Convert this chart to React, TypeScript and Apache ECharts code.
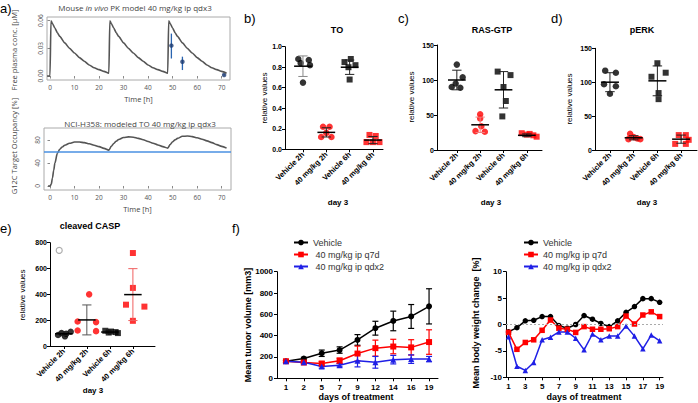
import React, { useEffect, useRef } from "react";
import * as echarts from "echarts";

const FONT_GP = "'Liberation Sans', Arial, sans-serif";
const FONT_A = "'Open Sans', 'Noto Sans', sans-serif";

// ---------- Panel a: PK model ----------
const pkTime = [-1.2, 0, 0.4, 1, 2, 3, 4, 6, 8, 10, 12, 14, 16, 18, 20, 22, 24,
  24.4, 25, 26, 27, 28, 30, 32, 34, 36, 38, 40, 42, 44, 46, 48,
  48.4, 49, 50, 51, 52, 54, 56, 58, 60, 62, 64, 66, 68, 70, 72];
const pkConc = [0, 0, 0.06, 0.057, 0.052, 0.047, 0.043, 0.036, 0.03, 0.025, 0.02, 0.016, 0.012, 0.009, 0.007, 0.005, 0.003,
  0.06, 0.057, 0.052, 0.047, 0.043, 0.036, 0.03, 0.025, 0.02, 0.016, 0.012, 0.009, 0.007, 0.005, 0.003,
  0.06, 0.057, 0.052, 0.047, 0.043, 0.036, 0.03, 0.025, 0.02, 0.016, 0.012, 0.009, 0.007, 0.005, 0.003];
const pkObsTime = [49.5, 54, 71];
const pkObsConc = [0.033, 0.0155, 0.0012];
const pkObsLow = [0.019, 0.0065, 0.0006];
const pkObsHigh = [0.046, 0.021, 0.0018];
const timeTicks = [0, 10, 20, 30, 40, 50, 60, 70];
const pkTicks = [0, 0.03, 0.06];

const occTime = [-0.8, 0, 0.5, 1, 1.5, 2, 3, 4, 5, 6, 8, 10, 12, 14, 16, 18, 20, 22, 24,
  25, 26, 27, 28, 30, 32, 34, 36, 38, 40, 42, 44, 46, 48,
  49, 50, 51, 52, 54, 56, 58, 60, 62, 64, 66, 68, 70, 72];
const occValue = [0, 0, 3, 14, 27, 40, 57, 64, 68, 71, 74.5, 76.5, 76.5, 75.5, 73.5, 71, 68.5, 65.5, 62.5,
  69, 74, 78, 81, 84.5, 85.5, 85, 83, 80.5, 77.5, 74.5, 71.5, 68.5, 66,
  72, 77, 80.5, 83, 86.5, 87, 86, 84, 81.5, 78.5, 75.5, 72, 69, 66];
const occThreshold = 60;
const occTicks = [0, 40, 80];

// ---------- Panels b-e: dot plots ----------
const groupLabels = ["Vehicle 2h", "40 mg/kg 2h", "Vehicle 6h", "40 mg/kg 6h"];
const groupTicks = [0, 1, 2, 3];

// b) TO
const toV2h = [0.88, 0.87, 0.84, 0.82, 0.65];
const toD2h = [0.22, 0.22, 0.16, 0.12, 0.12];
const toV6h = [0.88, 0.85, 0.82, 0.8, 0.68];
const toD6h = [0.14, 0.13, 0.07, 0.07, 0.07];
const toMean = [0.81, 0.165, 0.8, 0.09];
const toSd = [0.1, 0.045, 0.07, 0.035];

// c) RAS-GTP
const rasV2h = [122, 104, 95, 90, 89];
const rasD2h = [51, 45, 34, 27, 26];
const rasV6h = [112, 107, 90, 70, 48];
const rasD6h = [24, 23, 22, 21, 19];
const rasMean = [100, 36, 86, 21];
const rasSd = [14, 11, 26, 2];

// d) pERK
const erkV2h = [117, 114, 97, 94, 83];
const erkD2h = [24, 19, 17, 16, 16];
const erkV6h = [128, 114, 108, 84, 75];
const erkD6h = [22, 22, 15, 9, 9];
const erkMean = [100, 18, 102, 16];
const erkSd = [14, 3, 22, 6];

// e) cleaved CASP
const caspV2h = [110, 100, 95, 85, 75];
const caspD2h = [400, 190, 185, 120, 115];
const caspV6h = [118, 112, 108, 104, 100];
const caspD6h = [720, 450, 320, 305, 195];
const caspMean = [95, 202, 108, 398];
const caspSd = [13, 116, 8, 201];
const caspOutlier = [740];

// ---------- Panel f ----------
const tumorDays = ["1", "2", "5", "7", "9", "12", "14", "16", "19"];
const tumorVehicle = [160, 185, 235, 265, 360, 470, 538, 580, 675];
const tumorVehicleSd = [8, 12, 30, 30, 50, 65, 92, 112, 165];
const tumorQ7d = [160, 148, 138, 165, 232, 283, 298, 290, 340];
const tumorQ7dSd = [8, 10, 20, 25, 70, 75, 68, 72, 115];
const tumorQdx2 = [160, 150, 110, 122, 165, 150, 175, 180, 180];
const tumorQdx2Sd = [8, 10, 15, 15, 58, 55, 40, 40, 25];

const bwDays = [1, 2, 3, 4, 5, 6, 7, 8, 9, 10, 11, 12, 13, 14, 15, 16, 17, 18, 19];
const bwDayTicks = [1, 3, 5, 7, 9, 11, 13, 15, 17, 19];
const bwTicks = [-10, -5, 0, 5, 10];
const bwVehicle = [-1.4, -0.6, 0.7, 0.8, 1.5, 1.5, -0.2, -0.7, 0, 1.7, 1.0, 0.2, -0.4, 0.7, 2.3, 3.4, 4.9, 4.9, 4.2];
const bwQ7d = [-1.5, -4.7, -3.4, -2.9, -1.1, 0.85, -0.7, -0.9, -1.5, -0.4, -0.9, -0.9, -0.8, -0.4, 1.6, 0.1, 1.8, 2.4, 1.5];
const bwQdx2 = [-2.3, -7.9, -8.7, -7.2, -2.9, -2.4, -1.4, -1.4, -2.6, -4.8, -1.8, -2.9, -2.2, -2.2, -0.3, -2.2, -4.6, -2.0, -3.1];

// ---------- layout / style constants ----------
const groupColors = ["#000000", "#ff0000", "#000000", "#ff0000"];
const groupSymbols = ["circle", "circle", "rect", "rect"];
const toJitter = [[-0.2, 0.25, -0.1, 0.3, 0], [-0.14, 0.14, 0, -0.22, 0.22], [0.05, -0.22, 0.25, -0.05, 0], [-0.15, 0.12, -0.28, 0, 0.28]];
const rasJitter = [[0, 0.25, -0.05, -0.22, 0.15], [0, 0, 0.05, -0.2, 0.2], [-0.25, 0.3, 0, 0.1, -0.05], [-0.22, 0.12, 0, 0.28, 0.42]];
const erkJitter = [[-0.2, 0.25, -0.25, 0.25, 0], [-0.15, 0, 0.15, -0.22, 0.28], [0, 0.35, -0.25, 0.05, 0.05], [-0.1, 0.2, 0.32, -0.25, 0.2]];
const caspJitter = [[0.3, -0.1, 0.1, -0.25, 0.05], [0.1, -0.4, 0.4, -0.4, 0.4], [-0.2, 0.05, 0.25, -0.05, 0.35], [0, 0, -0.3, 0.5, 0]];
const caspOutlierJitter = -0.2;

const BLACK = "#000";
const RED = "#ff0000";
const BLUE = "#1f1fe6";

function gpText(size: number, bold = true) {
  return { fontSize: size, fontWeight: bold ? "bold" : "normal", color: "#000", fontFamily: FONT_GP };
}

function dotSeries(gi: number, groups: number[][], jitter: number[][], mean: number[], sd: number[], errColors: string[]) {
  const s: any[] = groups.map((vals, g) => ({
    type: "scatter",
    xAxisIndex: gi,
    yAxisIndex: gi,
    z: 2,
    silent: true,
    symbol: groupSymbols[g],
    symbolSize: groupSymbols[g] === "rect" ? 6 : 6.5,
    itemStyle: { color: groupColors[g] },
    data: vals.map((v, k) => [g + jitter[g][k], v]),
  }));
  s.push({
    type: "custom",
    xAxisIndex: gi,
    yAxisIndex: gi,
    z: 3,
    silent: true,
    data: mean.map((m, g) => [g, m, m - sd[g], m + sd[g]]),
    renderItem: (_p: any, api: any) => {
      const g = api.value(0);
      const unit = api.size([1, 0])[0];
      const c = api.coord([g, api.value(1)]);
      const a = api.coord([g, api.value(2)]);
      const b = api.coord([g, api.value(3)]);
      const col = errColors[g];
      const cap = unit * 0.2;
      const half = unit * 0.38;
      const st = { stroke: col, lineWidth: 1 };
      return {
        type: "group",
        children: [
          { type: "line", shape: { x1: a[0], y1: a[1], x2: b[0], y2: b[1] }, style: st },
          { type: "line", shape: { x1: a[0] - cap, y1: a[1], x2: a[0] + cap, y2: a[1] }, style: st },
          { type: "line", shape: { x1: b[0] - cap, y1: b[1], x2: b[0] + cap, y2: b[1] }, style: st },
          { type: "line", shape: { x1: c[0] - half, y1: c[1], x2: c[0] + half, y2: c[1] }, style: { stroke: "#000", lineWidth: 1.5 } },
        ],
      };
    },
  });
  return s;
}

function dotXAxis(gi: number, min: number, max: number) {
  return {
    type: "value",
    gridIndex: gi,
    min,
    max,
    splitLine: { show: false },
    axisLine: { show: true, onZero: false, lineStyle: { color: "#000", width: 1 } },
    axisTick: { show: true, customValues: groupTicks, length: 3, lineStyle: { color: "#000" } },
    axisLabel: {
      ...gpText(7.5),
      customValues: groupTicks,
      formatter: (v: number) => groupLabels[Math.round(v)] ?? "",
      rotate: 45,
      margin: 4,
    },
  };
}

function dotYAxis(gi: number, max: number, interval: number, decimals: number) {
  return {
    type: "value",
    gridIndex: gi,
    min: 0,
    max,
    interval,
    splitLine: { show: false },
    axisLine: { show: true, onZero: false, lineStyle: { color: "#000", width: 1 } },
    axisTick: { show: true, length: 3, lineStyle: { color: "#000" } },
    axisLabel: { ...gpText(7), margin: 3, formatter: (v: number) => v.toFixed(decimals) },
  };
}

function errSeries(gi: number, mean: number[], sd: number[], color: string) {
  return {
    type: "custom",
    xAxisIndex: gi,
    yAxisIndex: gi,
    z: 1,
    silent: true,
    data: mean.map((m, i) => [i, m - sd[i], m + sd[i]]),
    renderItem: (_p: any, api: any) => {
      const lo = api.coord([api.value(0), api.value(1)]);
      const hi = api.coord([api.value(0), api.value(2)]);
      const st = { stroke: color, lineWidth: 1.2 };
      return {
        type: "group",
        children: [
          { type: "line", shape: { x1: lo[0], y1: lo[1], x2: hi[0], y2: hi[1] }, style: st },
          { type: "line", shape: { x1: lo[0] - 3, y1: lo[1], x2: lo[0] + 3, y2: lo[1] }, style: st },
          { type: "line", shape: { x1: hi[0] - 3, y1: hi[1], x2: hi[0] + 3, y2: hi[1] }, style: st },
        ],
      };
    },
  };
}

function lineSeries(gi: number, name: string, data: any[], color: string, symbol: string, size: number) {
  return {
    type: "line",
    name,
    xAxisIndex: gi,
    yAxisIndex: gi,
    z: 2,
    data,
    symbol,
    symbolSize: size,
    itemStyle: { color },
    lineStyle: { color, width: 1.5 },
  };
}

function label(x: number, y: number, text: string, font: string, fill = "#000", align = "center") {
  return {
    type: "text",
    x,
    y,
    silent: true,
    style: { text, font, fill, textAlign: align, textVerticalAlign: "middle" },
  };
}

function vlabel(x: number, y: number, text: string, font: string, fill = "#000") {
  return {
    type: "text",
    x,
    y,
    rotation: Math.PI / 2,
    silent: true,
    style: { text, font, fill, textAlign: "center", textVerticalAlign: "middle" },
  };
}

function buildOption(): any {
  const aLabel = { color: "#555", fontSize: 6.5, fontFamily: FONT_A };
  const aName = { color: "#444", fontSize: 7.5, fontFamily: FONT_A };
  const grid = [
    { left: 47, top: 17, width: 183, height: 63, show: true, borderColor: "#aaa", borderWidth: 1, backgroundColor: "#fff" },
    { left: 44, top: 128, width: 187, height: 62, show: true, borderColor: "#aaa", borderWidth: 1, backgroundColor: "#fff" },
    { left: 285, top: 46.7, width: 98, height: 102.6 },
    { left: 437, top: 45, width: 105, height: 105 },
    { left: 595, top: 48.3, width: 102, height: 101.7 },
    { left: 50, top: 242.7, width: 105, height: 103.3 },
    { left: 277, top: 271.7, width: 161, height: 106.6 },
    { left: 506, top: 271.7, width: 157, height: 105.6 },
  ];

  const aX = (gi: number, min: number, max: number) => ({
    type: "value",
    gridIndex: gi,
    min,
    max,
    splitLine: { show: false },
    axisLine: { show: false },
    axisTick: { show: true, customValues: timeTicks, length: 2.5, lineStyle: { color: "#888" } },
    axisLabel: { ...aLabel, customValues: timeTicks, margin: 4 },
    name: "Time [h]",
    nameLocation: "middle",
    nameGap: 15,
    nameTextStyle: aName,
  });

  const xAxis: any[] = [
    aX(0, -1.22, 73.4),
    aX(1, -2.45, 73.8),
    dotXAxis(2, -0.77, 3.43),
    dotXAxis(3, -0.85, 3.65),
    dotXAxis(4, -0.63, 3.67),
    dotXAxis(5, -0.6, 3.96),
    {
      type: "category",
      gridIndex: 6,
      position: "bottom",
      data: tumorDays,
      boundaryGap: true,
      axisLine: { show: true, onZero: false, lineStyle: { color: "#000" } },
      axisTick: { show: true, alignWithLabel: true, length: 3, lineStyle: { color: "#000" } },
      axisLabel: { ...gpText(8), margin: 5 },
    },
    {
      type: "value",
      gridIndex: 7,
      position: "bottom",
      min: 0.7,
      max: 19.4,
      splitLine: { show: false },
      axisLine: { show: true, onZero: false, lineStyle: { color: "#000" } },
      axisTick: { show: true, customValues: bwDayTicks, length: 3, lineStyle: { color: "#000" } },
      axisLabel: { ...gpText(8), customValues: bwDayTicks, margin: 5 },
    },
  ];

  const yAxis: any[] = [
    {
      type: "value",
      gridIndex: 0,
      min: -0.0043,
      max: 0.064,
      splitLine: { show: false },
      axisLine: { show: false },
      axisTick: { show: true, customValues: pkTicks, length: 2.5, lineStyle: { color: "#888" } },
      axisLabel: { ...aLabel, customValues: pkTicks, rotate: 90, margin: 3, formatter: (v: number) => v.toFixed(2) },
    },
    {
      type: "value",
      gridIndex: 1,
      min: -7,
      max: 101,
      splitLine: { show: false },
      axisLine: { show: false },
      axisTick: { show: true, customValues: occTicks, length: 2.5, lineStyle: { color: "#888" } },
      axisLabel: { ...aLabel, customValues: occTicks, rotate: 90, margin: 3 },
    },
    dotYAxis(2, 1.0, 0.2, 1),
    dotYAxis(3, 150, 50, 0),
    dotYAxis(4, 150, 50, 0),
    dotYAxis(5, 800, 200, 0),
    {
      type: "value",
      gridIndex: 6,
      position: "left",
      min: 0,
      max: 1000,
      interval: 200,
      splitLine: { show: false },
      axisLine: { show: true, onZero: false, lineStyle: { color: "#000" } },
      axisTick: { show: true, length: 3, lineStyle: { color: "#000" } },
      axisLabel: { ...gpText(8), margin: 4, formatter: (v: number) => String(v) },
    },
    {
      type: "value",
      gridIndex: 7,
      position: "left",
      min: -10,
      max: 10,
      interval: 5,
      splitLine: { show: false },
      axisLine: { show: true, onZero: false, lineStyle: { color: "#000" } },
      axisTick: { show: true, length: 3, lineStyle: { color: "#000" } },
      axisLabel: { ...gpText(8), margin: 4, formatter: (v: number) => String(v) },
    },
  ];

  const series: any[] = [
    // a top
    {
      type: "line",
      xAxisIndex: 0,
      yAxisIndex: 0,
      data: pkTime.map((t, i) => [t, pkConc[i]]),
      showSymbol: false,
      smooth: 0.2,
      smoothMonotone: "x",
      lineStyle: { color: "#555", width: 1.6 },
      silent: true,
    },
    {
      type: "custom",
      xAxisIndex: 0,
      yAxisIndex: 0,
      silent: true,
      data: pkObsTime.map((t, i) => [t, pkObsLow[i], pkObsHigh[i]]),
      renderItem: (_p: any, api: any) => {
        const lo = api.coord([api.value(0), api.value(1)]);
        const hi = api.coord([api.value(0), api.value(2)]);
        return { type: "line", shape: { x1: lo[0], y1: lo[1], x2: hi[0], y2: hi[1] }, style: { stroke: "#2a64b0", lineWidth: 1.3 } };
      },
    },
    {
      type: "scatter",
      xAxisIndex: 0,
      yAxisIndex: 0,
      silent: true,
      symbolSize: 4.5,
      itemStyle: { color: "#1b3a70" },
      data: pkObsTime.map((t, i) => [t, pkObsConc[i]]),
    },
    // a bottom
    {
      type: "line",
      xAxisIndex: 1,
      yAxisIndex: 1,
      data: occTime.map((t, i) => [t, occValue[i]]),
      showSymbol: false,
      smooth: 0.3,
      smoothMonotone: "x",
      lineStyle: { color: "#555", width: 1.6 },
      silent: true,
      z: 3,
      markLine: {
        silent: true,
        symbol: "none",
        label: { show: false },
        lineStyle: { color: "#4a90e2", width: 1.6, type: "solid" },
        data: [{ yAxis: occThreshold }],
      },
    },
    ...dotSeries(2, [toV2h, toD2h, toV6h, toD6h], toJitter, toMean, toSd, ["#888", "#222", "#222", "#222"]),
    ...dotSeries(3, [rasV2h, rasD2h, rasV6h, rasD6h], rasJitter, rasMean, rasSd, ["#222", "#f08080", "#222", "#222"]),
    ...dotSeries(4, [erkV2h, erkD2h, erkV6h, erkD6h], erkJitter, erkMean, erkSd, ["#222", "#222", "#222", "#222"]),
    ...dotSeries(5, [caspV2h, caspD2h, caspV6h, caspD6h], caspJitter, caspMean, caspSd, ["#222", "#555", "#222", "#f06060"]),
    {
      type: "scatter",
      xAxisIndex: 5,
      yAxisIndex: 5,
      silent: true,
      symbol: "circle",
      symbolSize: 6,
      itemStyle: { color: "#fff", borderColor: "#999", borderWidth: 1.2 },
      data: caspOutlier.map((v) => [caspOutlierJitter, v]),
    },
    // f left
    errSeries(6, tumorVehicle, tumorVehicleSd, BLACK),
    errSeries(6, tumorQ7d, tumorQ7dSd, RED),
    errSeries(6, tumorQdx2, tumorQdx2Sd, BLUE),
    lineSeries(6, "Vehicle", tumorVehicle, BLACK, "circle", 6),
    lineSeries(6, " 40 mg/kg ip q7d", tumorQ7d, RED, "rect", 6),
    lineSeries(6, " 40 mg/kg ip qdx2", tumorQdx2, BLUE, "triangle", 6),
    // f right
    {
      ...lineSeries(7, "Vehicle", bwDays.map((d, i) => [d, bwVehicle[i]]), BLACK, "circle", 5.5),
      markLine: {
        silent: true,
        symbol: "none",
        label: { show: false },
        lineStyle: { color: "#aaa", width: 1, type: [2, 2] },
        data: [{ yAxis: 0 }],
      },
    },
    lineSeries(7, "40 mg/kg ip q7d", bwDays.map((d, i) => [d, bwQ7d[i]]), RED, "rect", 5.5),
    lineSeries(7, "40 mg/kg ip qdx2", bwDays.map((d, i) => [d, bwQdx2[i]]), BLUE, "triangle", 5.5),
  ];

  const legendText = { fontSize: 9, color: "#333", fontFamily: FONT_GP };
  const legend = [
    {
      data: ["Vehicle", " 40 mg/kg ip q7d", " 40 mg/kg ip qdx2"],
      left: 288,
      top: 233,
      orient: "vertical",
      itemWidth: 14,
      itemHeight: 7,
      itemGap: 3,
      selectedMode: false,
      textStyle: legendText,
    },
    {
      data: ["Vehicle", "40 mg/kg ip q7d", "40 mg/kg ip qdx2"],
      left: 518,
      top: 233,
      orient: "vertical",
      itemWidth: 14,
      itemHeight: 7,
      itemGap: 3,
      selectedMode: false,
      textStyle: legendText,
    },
  ];

  const relFont = `8px ${FONT_GP}`;
  const graphic: any[] = [
    label(0, 8, "a)", `13px ${FONT_GP}`, "#000", "left"),
    {
      type: "text",
      x: 135,
      y: 7,
      silent: true,
      style: {
        text: "{n|Mouse }{i|in vivo}{n| PK model 40 mg/kg ip qdx3}",
        textAlign: "center",
        textVerticalAlign: "middle",
        rich: {
          n: { fontSize: 8, fontFamily: FONT_A, fill: "#444", color: "#444" },
          i: { fontSize: 8, fontFamily: FONT_A, fontStyle: "italic", fill: "#444", color: "#444" },
        },
      },
    },
    label(140, 123, "NCI-H358: modeled TO 40 mg/kg ip qdx3", `8px ${FONT_A}`, "#444"),
    vlabel(14, 50, "Free plasma conc. [\u00b5M]", `7.5px ${FONT_A}`, "#444"),
    vlabel(14, 146, "G12C Target Occupancy [%]", `7.5px ${FONT_A}`, "#444"),
    label(244, 18, "b)", `13px ${FONT_GP}`, "#000", "left"),
    label(398, 18, "c)", `13px ${FONT_GP}`, "#000", "left"),
    label(551, 18, "d)", `13px ${FONT_GP}`, "#000", "left"),
    label(0, 228, "e)", `13px ${FONT_GP}`, "#000", "left"),
    label(232, 228, "f)", `13px ${FONT_GP}`, "#000", "left"),
    label(337, 30, "TO", `bold 9px ${FONT_GP}`),
    label(492, 30, "RAS-GTP", `bold 9px ${FONT_GP}`),
    label(642, 30, "pERK", `bold 9px ${FONT_GP}`),
    label(90, 226, "cleaved CASP", `bold 9px ${FONT_GP}`),
    vlabel(264, 98, "relative values", relFont),
    vlabel(411, 97, "relative values", relFont),
    vlabel(569, 99, "relative values", relFont),
    vlabel(22, 295, "relative values", relFont),
    label(338, 202, "day 3", `bold 8px ${FONT_GP}`),
    label(491, 202, "day 3", `bold 8px ${FONT_GP}`),
    label(647, 202, "day 3", `bold 8px ${FONT_GP}`),
    label(93, 390, "day 3", `bold 8px ${FONT_GP}`),
    vlabel(248, 325, "Mean tumor volume [mm3]", `bold 9px ${FONT_GP}`),
    vlabel(476, 323, "Mean body weight change  [%]", `bold 9px ${FONT_GP}`),
    label(356, 397, "days of treatment", `bold 9px ${FONT_GP}`),
    label(584, 397, "days of treatment", `bold 9px ${FONT_GP}`),
  ];

  return {
    animation: false,
    backgroundColor: "#fff",
    grid,
    xAxis,
    yAxis,
    series,
    legend,
    graphic,
  };
}

export default function App() {
  const ref = useRef<HTMLDivElement>(null);
  useEffect(() => {
    const chart = echarts.init(ref.current as HTMLDivElement, null, { renderer: "svg" });
    chart.setOption(buildOption());
    return () => chart.dispose();
  }, []);
  return (
    <div
      ref={ref}
      style={{ position: "absolute", left: 0, top: 0, width: 698, height: 403, background: "#fff" }}
    />
  );
}
